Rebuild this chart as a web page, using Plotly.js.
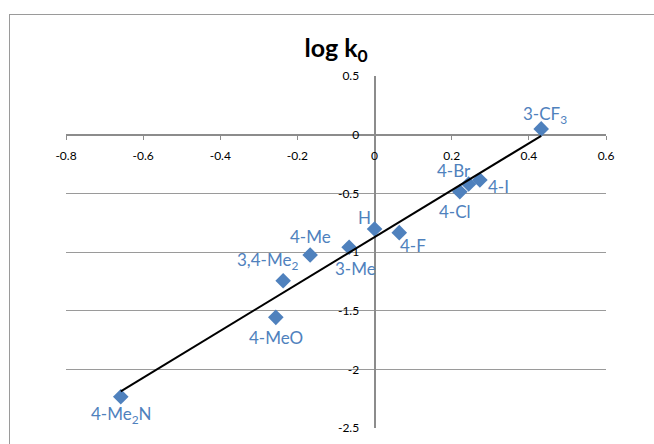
<!DOCTYPE html>
<html>
<head>
<meta charset="utf-8">
<script src="https://cdn.plot.ly/plotly-3.0.1.min.js"></script>
<style>
  html, body { margin: 0; padding: 0; background: #fff; overflow: hidden; }
  #wrap { position: relative; width: 654px; height: 444px; }
  #chart { position: absolute; left: 0; top: 0; width: 654px; height: 444px; }
  #frame { position: absolute; left: 9px; top: 14px; width: 700px; height: 500px;
           border-left: 1px solid #9a9a9a; border-top: 1px solid #9a9a9a; pointer-events: none; }
</style>
</head>
<body>
<div id="wrap">
  <div id="chart"></div>
  <div id="frame"></div>
</div>
<script>
// Data
const substituents = ['3-CF<sub>3</sub>', '4-I', '4-Br', '4-Cl', '4-F', 'H', '3-Me', '4-Me', '3,4-Me<sub>2</sub>', '4-MeO', '4-Me<sub>2</sub>N'];
const sigma = [0.432, 0.273, 0.244, 0.221, 0.064, 0.0, -0.066, -0.167, -0.237, -0.256, -0.658];
const logK0 = [0.049, -0.386, -0.420, -0.486, -0.835, -0.804, -0.960, -1.026, -1.245, -1.557, -2.234];
const xTicks = [-0.8, -0.6, -0.4, -0.2, 0, 0.2, 0.4, 0.6];
const yTicks = [0.5, 0, -0.5, -1, -1.5, -2, -2.5];

// label placement offsets in pixels (style only)
const labelDX = [4, 19, -15, -5, 14, -10, 6, 0, -16, 0, 1];
const labelDY = [-14, 7, -13, 20, 13, -12, 21, -19, -20, 20, 18];

// Linear trendline (least squares) computed from the data
const n = sigma.length;
const mx = sigma.reduce((a, b) => a + b, 0) / n;
const my = logK0.reduce((a, b) => a + b, 0) / n;
let sxy = 0, sxx = 0;
for (let i = 0; i < n; i++) { sxy += (sigma[i] - mx) * (logK0[i] - my); sxx += (sigma[i] - mx) ** 2; }
const slope = sxy / sxx, intercept = my - slope * mx;
const xmin = Math.min(...sigma), xmax = Math.max(...sigma);
const trendX = [xmin, xmax];
const trendY = trendX.map(x => intercept + slope * x);

const FONT = 'Lato, "Open Sans", sans-serif';

const data = [
  {
    type: 'scatter', mode: 'markers',
    x: sigma, y: logK0,
    marker: { symbol: 'diamond', size: 12, color: '#4F81BD' },
    cliponaxis: false, hoverinfo: 'skip'
  },
  {
    type: 'scatter', mode: 'lines',
    x: trendX, y: trendY,
    line: { color: '#000000', width: 2 },
    hoverinfo: 'skip'
  }
];

const annotations = substituents.map((t, i) => ({
  x: sigma[i], y: logK0[i], xref: 'x', yref: 'y',
  text: t, showarrow: false,
  xanchor: 'center', yanchor: 'middle',
  xshift: labelDX[i], yshift: -labelDY[i],
  font: { family: FONT, size: 17, color: '#4F81BD' }
}));

const layout = {
  width: 654, height: 444,
  margin: { l: 66, r: 48, t: 76, b: 16 },
  paper_bgcolor: '#ffffff', plot_bgcolor: '#ffffff',
  showlegend: false,
  font: { family: FONT, size: 12, color: '#000000' },
  title: {
    text: '<b>log k<sub>0</sub></b>',
    font: { family: FONT, size: 25, color: '#000000' },
    x: 0.5139, xanchor: 'center',
    yref: 'container', y: 0.892, yanchor: 'middle'
  },
  xaxis: {
    range: [-0.8, 0.6], tickvals: xTicks, ticktext: xTicks.map(String),
    showgrid: false, zeroline: false,
    showline: true, linecolor: '#8c8c8c', linewidth: 2,
    anchor: 'free', position: 2.5 / 3,
    ticks: 'outside', ticklen: 4, tickcolor: '#8c8c8c', tickwidth: 1,
    ticklabelstandoff: 6,
    tickfont: { family: FONT, size: 12, color: '#000000' },
    layer: 'below traces', fixedrange: true
  },
  yaxis: {
    range: [-2.5, 0.5], tickvals: yTicks, ticktext: yTicks.map(String),
    showgrid: true, gridcolor: '#9a9a9a', gridwidth: 1,
    zeroline: false,
    showline: true, linecolor: '#8c8c8c', linewidth: 2,
    anchor: 'free', position: 0.8 / 1.4,
    ticks: '', ticklabelstandoff: 12,
    tickfont: { family: FONT, size: 12, color: '#000000' },
    layer: 'below traces', fixedrange: true
  },
  annotations: annotations,
  hovermode: false
};

Plotly.newPlot('chart', data, layout, { staticPlot: true, displayModeBar: false });
</script>
</body>
</html>
